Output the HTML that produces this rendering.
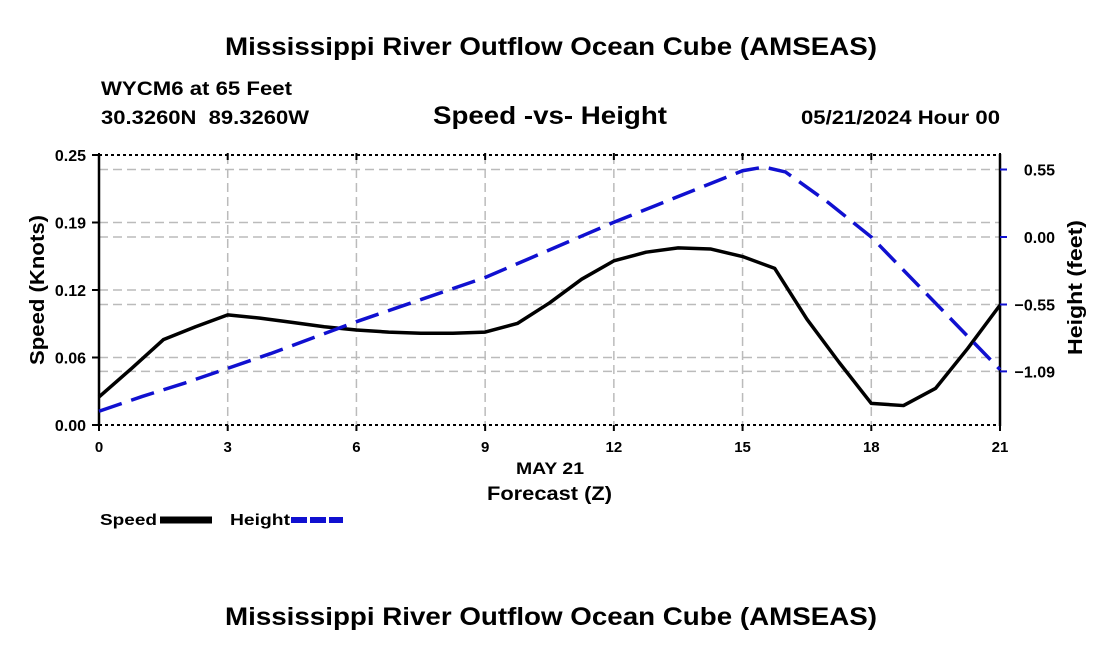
<!DOCTYPE html>
<html><head><meta charset="utf-8">
<style>
body{margin:0;background:#fff;}
svg{display:block;font-family:"Liberation Sans",Arial,sans-serif;font-weight:bold;}
</style></head>
<body>
<svg id="chart" width="1100" height="650" viewBox="0 0 1100 650" xmlns="http://www.w3.org/2000/svg">
<rect width="1100" height="650" fill="#fff"/>
<text x="225" y="55" font-size="25" textLength="652" lengthAdjust="spacingAndGlyphs">Mississippi River Outflow Ocean Cube (AMSEAS)</text>
<text x="101" y="95" font-size="19" textLength="191" lengthAdjust="spacingAndGlyphs">WYCM6 at 65 Feet</text>
<text x="101" y="124" font-size="19" textLength="208" lengthAdjust="spacingAndGlyphs" xml:space="preserve">30.3260N  89.3260W</text>
<text x="433" y="124" font-size="25" textLength="234" lengthAdjust="spacingAndGlyphs">Speed -vs- Height</text>
<text x="801" y="124" font-size="19" textLength="199" lengthAdjust="spacingAndGlyphs">05/21/2024 Hour 00</text>
<g id="grid"></g>
<g id="axes"></g>
<g id="series"></g>
<text x="516" y="474" font-size="17" textLength="68" lengthAdjust="spacingAndGlyphs">MAY 21</text>
<text x="487" y="500" font-size="19" textLength="125" lengthAdjust="spacingAndGlyphs">Forecast (Z)</text>
<text transform="translate(44,365) rotate(-90)" font-size="20" textLength="150" lengthAdjust="spacingAndGlyphs">Speed (Knots)</text>
<text transform="translate(1082,355) rotate(-90)" font-size="20" textLength="135" lengthAdjust="spacingAndGlyphs">Height (feet)</text>
<g>
<text x="100" y="525" font-size="16" textLength="57" lengthAdjust="spacingAndGlyphs">Speed</text>
<line x1="160" y1="520" x2="212" y2="520" stroke="#000" stroke-width="7"/>
<text x="230" y="525" font-size="16" textLength="60" lengthAdjust="spacingAndGlyphs">Height</text>
<line x1="291" y1="520" x2="343" y2="520" stroke="#1010d0" stroke-width="6" stroke-dasharray="16,3"/>
</g>
<text x="225" y="625" font-size="25" textLength="652" lengthAdjust="spacingAndGlyphs">Mississippi River Outflow Ocean Cube (AMSEAS)</text>
</svg>
<script>
const speedHours = [0,0.75,1.5,2.25,3,3.75,4.5,5.25,6,6.75,7.5,8.25,9,9.75,10.5,11.25,12,12.75,13.5,14.25,15,15.75,16.5,17.25,18,18.75,19.5,20.25,21];
const speedValues = [0.026,0.052,0.079,0.091,0.102,0.099,0.095,0.091,0.088,0.086,0.085,0.085,0.086,0.094,0.113,0.135,0.152,0.160,0.164,0.163,0.156,0.145,0.098,0.058,0.020,0.018,0.034,0.071,0.111];
const heightHours = [0,1,2,3,4,5,6,7,8,9,10,11,12,13,14,15,15.5,16,17,18,19,20,21];
const heightValues = [-1.42,-1.30,-1.19,-1.07,-0.95,-0.82,-0.69,-0.57,-0.45,-0.33,-0.18,-0.03,0.12,0.26,0.40,0.54,0.57,0.53,0.28,0.0,-0.36,-0.72,-1.08];
const xTicks = [0,3,6,9,12,15,18,21];
const speedTicks = [0,0.0625,0.125,0.1875,0.25];
const speedTickLabels = ["0.00","0.06","0.12","0.19","0.25"];
const heightTicks = [0.55,0,-0.55,-1.095];
const heightTickLabels = ["0.55","0.00","\u22120.55","\u22121.09"];

const L=99,R=1000,T=155,B=425;
const X=t=>L+(t/21)*(R-L);
const YS=v=>B-(v/0.25)*(B-T);
const YH=h=>237-h*(67.5/0.55);
const NS="http://www.w3.org/2000/svg";
function mk(tag,attrs,parent){const e=document.createElementNS(NS,tag);for(const k in attrs)e.setAttribute(k,attrs[k]);parent.appendChild(e);return e;}
const grid=document.getElementById('grid'),axes=document.getElementById('axes'),series=document.getElementById('series');
const gs={stroke:"#bbb","stroke-width":1.5,"stroke-dasharray":"9,5"};
xTicks.forEach(t=>{if(t>0&&t<21){const l=mk('line',Object.assign({x1:X(t),x2:X(t),y1:T,y2:B},gs),grid);

}});
speedTicks.forEach(v=>{if(v>0&&v<0.25){const l=mk('line',Object.assign({x1:L,x2:R,y1:YS(v),y2:YS(v)},gs),grid);

}});
heightTicks.forEach(h=>{const l=mk('line',Object.assign({x1:L,x2:R,y1:YH(h),y2:YH(h)},gs),grid);

});
[[L,T,R,T],[L,B,R,B]].forEach(a=>{const l=mk('line',{x1:a[0],y1:a[1],x2:a[2],y2:a[3],stroke:"#000","stroke-width":2,"stroke-dasharray":"3,3"},axes);

});
[[L,T,L,B],[R,T,R,B]].forEach(a=>{const l=mk('line',{x1:a[0],y1:a[1]-1,x2:a[2],y2:a[3]+1,stroke:"#000","stroke-width":2.5},axes);

});
xTicks.forEach(t=>{const l=mk('line',{x1:X(t),x2:X(t),y1:B,y2:B+6,stroke:"#000","stroke-width":2},axes);


const l2=mk('line',{x1:X(t),x2:X(t),y1:T-2,y2:T+5,stroke:"#000","stroke-width":2},axes);


const tx=mk('text',{x:X(t),y:B+27,"font-size":15,"text-anchor":"middle"},axes);tx.textContent=t;

});
speedTicks.forEach((v,i)=>{const l=mk('line',{x1:L-7,x2:L,y1:YS(v),y2:YS(v),stroke:"#000","stroke-width":2},axes);


const tx=mk('text',{x:L-13,y:YS(v)+6,"font-size":16,"text-anchor":"end"},axes);tx.textContent=speedTickLabels[i];

});
heightTicks.forEach((h,i)=>{const l=mk('line',{x1:R,x2:R+7,y1:YH(h),y2:YH(h),stroke:"#1010d0","stroke-width":2},axes);


const tx=mk('text',{x:1055,y:YH(h)+6,"font-size":16,"text-anchor":"end"},axes);tx.textContent=heightTickLabels[i];

});
const sp=mk('polyline',{points:speedHours.map((t,i)=>X(t)+","+YS(speedValues[i])).join(" "),fill:"none",stroke:"#000","stroke-width":3.5,"stroke-linejoin":"round"},series);


const hp=mk('polyline',{points:heightHours.map((t,i)=>X(t)+","+YH(heightValues[i])).join(" "),fill:"none",stroke:"#1010d0","stroke-width":3.5,"stroke-dasharray":"24,10"},series);


</script>
</body></html>
